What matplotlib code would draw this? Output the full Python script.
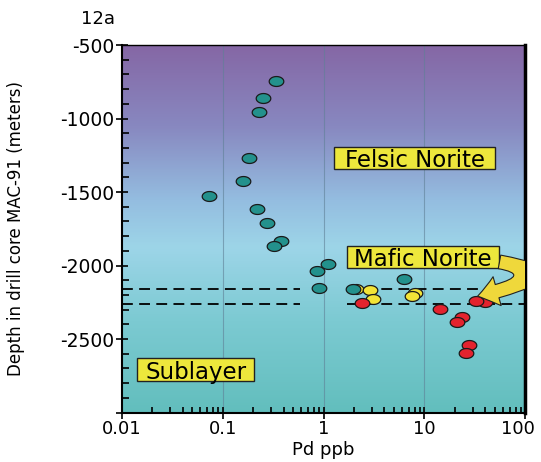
import numpy as np
import matplotlib.pyplot as plt
import matplotlib.transforms as mtransforms
from matplotlib.path import Path
from matplotlib.patches import FancyArrowPatch, Rectangle
from matplotlib.colors import LinearSegmentedColormap

# --- Data (Pd ppb vs depth in meters) ---
felsic_pd = [0.34, 0.25, 0.23, 0.18, 0.157, 0.073, 0.218, 0.274, 0.38, 0.32,
             0.85, 1.10, 0.89, 1.97, 6.2]
felsic_depth = [-745, -860, -956, -1271, -1427, -1527, -1614, -1713, -1833, -1867,
                -2035, -1990, -2155, -2158, -2090]
mafic_pd = [2.1, 2.9, 3.07, 8.0, 7.5]
mafic_depth = [-2160, -2167, -2230, -2190, -2205]
sub_pd = [2.39, 14.1, 23.4, 21.2, 27.9, 25.9, 39.8, 32.5]
sub_depth = [-2253, -2296, -2353, -2384, -2543, -2593, -2246, -2239]

contact_depths = [-2157, -2263]
contact_left = (0.01, 0.58)
contact_right = (1.7, 100)

x_ticks = [0.01, 0.1, 1, 10, 100]
x_ticklabels = ['0.01', '0.1', '1', '10', '100']
y_ticks = [-500, -1000, -1500, -2000, -2500, -3000]
y_ticklabels = ['-500', '-1000', '-1500', '-2000', '-2500', '']

unit_names = ['Felsic Norite', 'Mafic Norite', 'Sublayer']

# --- Figure ---
fig = plt.figure(figsize=(5.41, 4.62), dpi=100)
ax = fig.add_axes([0.2255, 0.107, 0.7455, 0.7955])
ax.set_xscale('log')
ax.set_xlim(0.01, 100)
ax.set_ylim(-3000, -500)

# background gradient (purple top -> light blue -> teal bottom)
cmap = LinearSegmentedColormap.from_list('bg', [
    (0.0, '#62bebd'), (0.25, '#7ccad2'), (0.45, '#9dd5e8'),
    (0.58, '#94bde0'), (0.78, '#8888c0'), (1.0, '#8567a5')])
grad = np.linspace(0, 1, 256).reshape(-1, 1)
ax.imshow(grad, extent=[0, 1, 0, 1], transform=ax.transAxes, aspect='auto',
          cmap=cmap, origin='lower', zorder=0)

# vertical grid lines at decades
for gx in [0.1, 1, 10]:
    ax.axvline(gx, color='#5f8096', lw=0.8, alpha=0.6, zorder=1)

# dashed contact lines
for d in contact_depths:
    ax.plot(contact_left, [d, d], color='black', lw=1.3, dashes=(6, 3.5), zorder=2)
    ax.plot(contact_right, [d, d], color='black', lw=1.3, dashes=(6, 3.5), zorder=2)

# ellipse marker (image is stretched horizontally)
t = np.linspace(0, 2 * np.pi, 60)
ell = Path(np.column_stack([1.47 * np.cos(t), np.sin(t)]), closed=True)

mk = dict(marker=ell, ms=10.5, mec='#1a1a1a', mew=0.9, ls='none', zorder=4)
ax.plot(mafic_pd, mafic_depth, mfc='#f3e437', **mk)
ax.plot(felsic_pd, felsic_depth, mfc='#23918c', **mk)
ax.plot(sub_pd, sub_depth, mfc='#e3232e', **mk)

# unit labels: yellow boxes (axes fraction: x0, x1, y0, y1)
label_boxes = [(0.526, 0.926, 0.664, 0.723),
               (0.558, 0.936, 0.394, 0.453),
               (0.038, 0.328, 0.086, 0.148)]
for name, (x0, x1, y0, y1) in zip(unit_names, label_boxes):
    ax.add_patch(Rectangle((x0, y0), x1 - x0, y1 - y0, transform=ax.transAxes,
                           fc='#ede73c', ec='#222222', lw=1, zorder=5))
    ax.text((x0 + x1) / 2, (y0 + y1) / 2, name, transform=ax.transAxes,
            fontsize=16.5, ha='center', va='center_baseline', zorder=6)

# curved arrow from Mafic Norite label, looping round to point at the contact zone
arrow_path = Path([(0.936, 0.41), (1.11, 0.375), (0.882, 0.317)],
                  [Path.MOVETO, Path.CURVE3, Path.CURVE3])
arr = FancyArrowPatch(path=arrow_path, transform=ax.transAxes,
                      arrowstyle='simple,head_width=1.2,head_length=0.8,tail_width=0.55',
                      mutation_scale=18, fc='#efd83b', ec='#222222', lw=0.8, zorder=6)
ax.add_patch(arr)
arr.set_clip_path(ax.patch)

# ticks
ax.set_xticks(x_ticks)
ax.set_xticklabels(x_ticklabels)
ax.set_yticks(y_ticks)
ax.set_yticklabels(y_ticklabels)
ax.set_yticks(np.arange(-3000, -499, 100), minor=True)
ax.tick_params(which='major', direction='inout', length=9, width=1.2, labelsize=13.5, pad=1)
ax.tick_params(axis='x', which='major', labelsize=13)
ax.tick_params(which='minor', direction='in', length=5, width=1.2)
ax.tick_params(axis='x', which='minor', length=4, labelbottom=False)

# nudge the last x label so it stays inside the picture
last = ax.get_xticklabels()[-1]
last.set_transform(last.get_transform() +
                   mtransforms.ScaledTranslation(-5 / 72, 0, fig.dpi_scale_trans))

for s in ax.spines.values():
    s.set_linewidth(1.5)
    s.set_color('black')
ax.spines['right'].set_linewidth(2.5)
ax.spines['top'].set_linewidth(1.0)

ax.set_xlabel('Pd ppb', fontsize=13, va='center')
ax.xaxis.set_label_coords(0.5, -0.102)
ax.set_ylabel('Depth in drill core MAC-91 (meters)', fontsize=12, va='center')
ax.yaxis.set_label_coords(-0.263, 0.5)
fig.text(0.181, 0.958, '12a', fontsize=13, ha='center', va='center')

fig.savefig('out.png', dpi=100)
